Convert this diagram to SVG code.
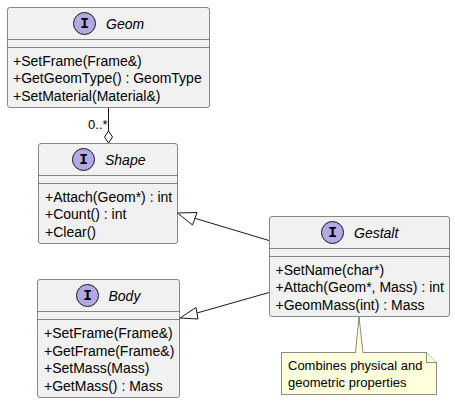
<svg xmlns="http://www.w3.org/2000/svg" width="455" height="403" viewBox="0 0 455 403">
<style>
text{font-family:"Liberation Sans",Arial,sans-serif;fill:#000}
.box{fill:#F1F1F1;stroke:#181818;stroke-width:.5}
.sep{stroke:#181818;stroke-width:.5;fill:none}
.circ{fill:#B4A7E5;stroke:#181818;stroke-width:1}
.name{font-size:14px;font-style:italic}
.m{font-size:14px}
.i{font-family:"Liberation Mono",monospace;font-size:14.5px;font-weight:bold}
.line{stroke:#181818;stroke-width:1;fill:none}
.head{stroke:#181818;stroke-width:1;fill:#fff}
.note{fill:#FEFFDD;stroke:#181818;stroke-width:.5}
.nt{font-size:13px}
</style>
<g id="connectors">
<path class="line" d="M108.5,107.5V132"/>
<path class="head" d="M108.500,143L104.500,137L108.500,131L112.500,137Z"/>
<text class="m" x="88" y="128.500" style="font-size:13px">0..*</text>
<path class="line" d="M269,240.500L194,218"/>
<path class="head" d="M177.500,213L197,212.500L192.500,225Z"/>
<path class="line" d="M269,292.500L197,313"/>
<path class="head" d="M180,318L196,307.500L198,319Z"/>
</g>
<g id="geom">
<rect class="box" x="7.5" y="7.5" width="202" height="100" rx="2.5"/>
<path class="sep" d="M7.5,39.5H209.5M7.5,47.5H209.5"/>
<circle class="circ" cx="84.500" cy="23.500" r="11"/>
<text class="i" x="84.500" y="28" text-anchor="middle">I</text>
<text class="name" x="106" y="29">Geom</text>
<text class="m" x="13" y="66">+SetFrame(Frame&amp;)</text>
<text class="m" x="13" y="83">+GetGeomType() : GeomType</text>
<text class="m" x="13" y="101">+SetMaterial(Material&amp;)</text>
</g>
<g id="shape">
<rect class="box" x="38.5" y="143.5" width="139" height="100" rx="2.5"/>
<path class="sep" d="M38.5,175.5H177.5M38.5,183.5H177.5"/>
<circle class="circ" cx="83.500" cy="159.500" r="11"/>
<text class="i" x="83.500" y="164" text-anchor="middle">I</text>
<text class="name" x="105" y="165">Shape</text>
<text class="m" x="45" y="202">+Attach(Geom*) : int</text>
<text class="m" x="45" y="219">+Count() : int</text>
<text class="m" x="45" y="237">+Clear()</text>
</g>
<g id="body">
<rect class="box" x="37.5" y="279.5" width="142" height="118" rx="2.5"/>
<path class="sep" d="M37.5,311.5H179.5M37.5,319.5H179.5"/>
<circle class="circ" cx="87.500" cy="295.500" r="11"/>
<text class="i" x="87.500" y="300" text-anchor="middle">I</text>
<text class="name" x="108.500" y="301">Body</text>
<text class="m" x="44" y="338">+SetFrame(Frame&amp;)</text>
<text class="m" x="44" y="356">+GetFrame(Frame&amp;)</text>
<text class="m" x="44" y="373">+SetMass(Mass)</text>
<text class="m" x="44" y="391">+GetMass() : Mass</text>
</g>
<g id="gestalt">
<rect class="box" x="269.5" y="216.5" width="180" height="100" rx="2.5"/>
<path class="sep" d="M269.500,248.5H449.5M269.5,256.5H449.5"/>
<circle class="circ" cx="332.500" cy="232.500" r="11"/>
<text class="i" x="332.500" y="237" text-anchor="middle">I</text>
<text class="name" x="354" y="238">Gestalt</text>
<text class="m" x="275.500" y="275">+SetName(char*)</text>
<text class="m" x="275.500" y="292">+Attach(Geom*, Mass) : int</text>
<text class="m" x="275.500" y="310">+GeomMass(int) : Mass</text>
</g>
<g id="note">
<path class="note" d="M281.500,352.500H355.500L359,317L363,352.500H426.500L436.500,362.500V394.500H281.500Z"/>
<path class="note" d="M426.500,352.500V362.500H436.500"/>
<text class="nt" x="288" y="370">Combines physical and</text>
<text class="nt" x="288" y="387">geometric properties</text>
</g>
</svg>
